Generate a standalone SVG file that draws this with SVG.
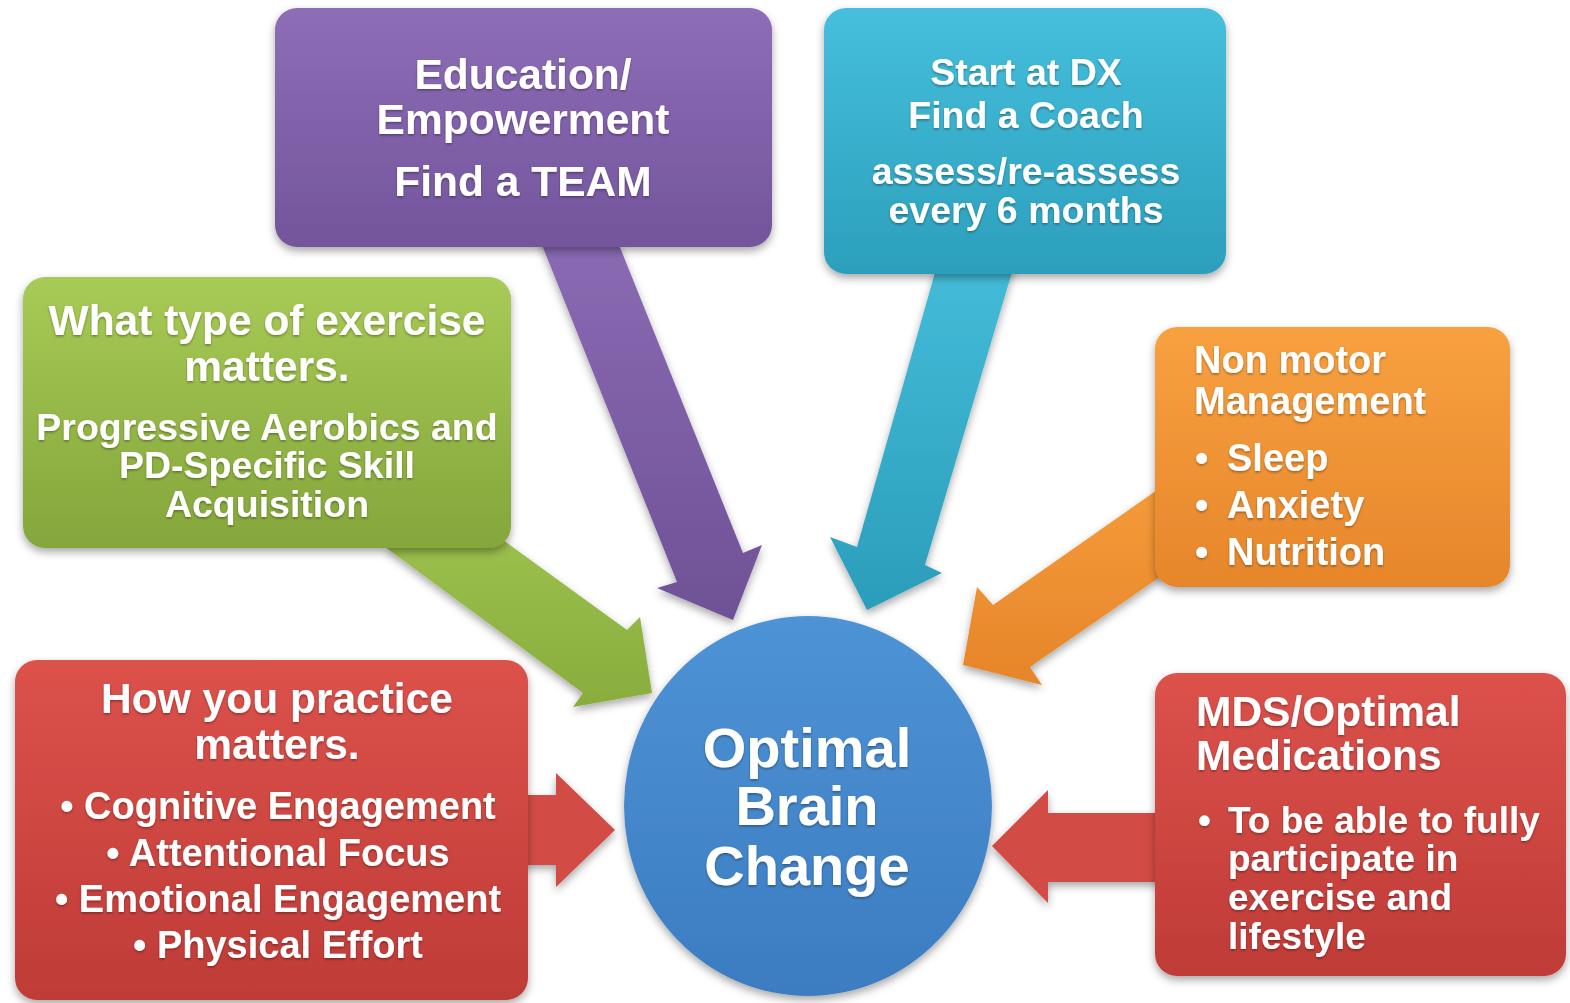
<svg xmlns="http://www.w3.org/2000/svg" width="1570" height="1003" viewBox="0 0 1570 1003">
  <defs>
    <linearGradient id="gPurple" x1="0" y1="0" x2="0" y2="1">
      <stop offset="0" stop-color="#8e6db7"/>
      <stop offset="1" stop-color="#73559c"/>
    </linearGradient>
    <linearGradient id="gCyan" x1="0" y1="0" x2="0" y2="1">
      <stop offset="0" stop-color="#45bfdc"/>
      <stop offset="1" stop-color="#2c9fbc"/>
    </linearGradient>
    <linearGradient id="gGreen" x1="0" y1="0" x2="0" y2="1">
      <stop offset="0" stop-color="#a8ca56"/>
      <stop offset="1" stop-color="#84a63b"/>
    </linearGradient>
    <linearGradient id="gOrange" x1="0" y1="0" x2="0" y2="1">
      <stop offset="0" stop-color="#f8a140"/>
      <stop offset="1" stop-color="#e6862b"/>
    </linearGradient>
    <linearGradient id="gRed" x1="0" y1="0" x2="0" y2="1">
      <stop offset="0" stop-color="#dc524b"/>
      <stop offset="1" stop-color="#bf3b37"/>
    </linearGradient>
    <linearGradient id="gBlue" x1="0" y1="0" x2="0" y2="1">
      <stop offset="0" stop-color="#4d93d6"/>
      <stop offset="1" stop-color="#3c7cc0"/>
    </linearGradient>
    <linearGradient id="aPurple" x1="0" y1="0" x2="0" y2="1">
      <stop offset="0" stop-color="#8b6bb4"/>
      <stop offset="1" stop-color="#6f5196"/>
    </linearGradient>
    <linearGradient id="aCyan" x1="0" y1="0" x2="0" y2="1">
      <stop offset="0" stop-color="#44bcd9"/>
      <stop offset="1" stop-color="#2b9dba"/>
    </linearGradient>
    <linearGradient id="aGreen" x1="0" y1="0" x2="0" y2="1">
      <stop offset="0" stop-color="#9fc24f"/>
      <stop offset="1" stop-color="#88ad3d"/>
    </linearGradient>
    <linearGradient id="aOrange" x1="0" y1="0" x2="0" y2="1">
      <stop offset="0" stop-color="#f59b3a"/>
      <stop offset="1" stop-color="#e6852a"/>
    </linearGradient>
    <filter id="shadow" x="-10%" y="-10%" width="120%" height="125%">
      <feDropShadow dx="0" dy="4" stdDeviation="4" flood-color="#000" flood-opacity="0.35"/>
    </filter>
    <filter id="tshadow" x="-5%" y="-20%" width="110%" height="150%">
      <feDropShadow dx="0" dy="1.5" stdDeviation="1" flood-color="#000" flood-opacity="0.35"/>
    </filter>
  </defs>
  <style>
    text { font-family: "Liberation Sans", Arial, Helvetica, sans-serif; font-weight: bold; fill: #ffffff; }
    .c { text-anchor: middle; }
    .lbl { filter: url(#tshadow); }
  </style>

  <rect width="1570" height="1003" fill="#ffffff"/>

  <!-- block arrows pointing into the hub -->
  <g id="connectors" filter="url(#shadow)">
    <polygon id="arrow-education" fill="url(#aPurple)" points="536,230 613,230 743,553 762,545 733,620 657,588 677,582"/>
    <polygon id="arrow-coach" fill="url(#aCyan)" points="938,262 1015,262 925,565 942,573 867,610 830,537 857,547"/>
    <polygon id="arrow-exercise" fill="url(#aGreen)" points="470,516 627,630 640,617 652,693 573,707 583,693 385,547"/>
    <polygon id="arrow-nonmotor" fill="url(#aOrange)" points="1170,481 993,605 977,587 963,665 1042,685 1030,667 1170,570"/>
    <polygon id="arrow-practice" fill="#d24b45" points="510,795 556,795 556,773 615,830 556,887 556,865 510,865"/>
    <polygon id="arrow-meds" fill="#d24b45" points="1170,813 1048,813 1048,790 992,846 1048,903 1048,882 1170,882"/>
  </g>

  <g id="node-education">
    <rect x="275" y="8" width="497" height="239" rx="22" fill="url(#gPurple)" filter="url(#shadow)"/>
    <g class="lbl" font-size="42.5">
      <text class="c" x="523" y="89">Education/</text>
      <text class="c" x="523" y="134">Empowerment</text>
      <text class="c" x="523" y="196">Find a TEAM</text>
    </g>
  </g>

  <g id="node-coach">
    <rect x="824" y="8" width="402" height="266" rx="22" fill="url(#gCyan)" filter="url(#shadow)"/>
    <g class="lbl" font-size="37.5">
      <text class="c" x="1026" y="85">Start at DX</text>
      <text class="c" x="1026" y="128">Find a Coach</text>
      <text class="c" x="1026" y="184">assess/re-assess</text>
      <text class="c" x="1026" y="223">every 6 months</text>
    </g>
  </g>

  <g id="node-exercise">
    <rect x="23" y="277" width="488" height="271" rx="22" fill="url(#gGreen)" filter="url(#shadow)"/>
    <g class="lbl">
      <text class="c" x="267" y="335" font-size="42.5">What type of exercise</text>
      <text class="c" x="267" y="381" font-size="42.5">matters.</text>
      <text class="c" x="267" y="440" font-size="37.5">Progressive Aerobics and</text>
      <text class="c" x="267" y="478" font-size="37.5">PD-Specific Skill</text>
      <text class="c" x="267" y="517" font-size="37.5">Acquisition</text>
    </g>
  </g>

  <g id="node-nonmotor">
    <rect x="1155" y="327" width="355" height="260" rx="22" fill="url(#gOrange)" filter="url(#shadow)"/>
    <g class="lbl" font-size="38">
      <text x="1194" y="373">Non motor</text>
      <text x="1194" y="414">Management</text>
      <text x="1195" y="471">•</text>
      <text x="1227" y="471">Sleep</text>
      <text x="1195" y="518">•</text>
      <text x="1227" y="518">Anxiety</text>
      <text x="1195" y="565">•</text>
      <text x="1227" y="565">Nutrition</text>
    </g>
  </g>

  <g id="node-practice">
    <rect x="15" y="660" width="513" height="340" rx="22" fill="url(#gRed)" filter="url(#shadow)"/>
    <g class="lbl">
      <text class="c" x="277" y="713" font-size="42.5">How you practice</text>
      <text class="c" x="277" y="759" font-size="42.5">matters.</text>
      <text class="c" x="278" y="819" font-size="38">• Cognitive Engagement</text>
      <text class="c" x="278" y="866" font-size="38">• Attentional Focus</text>
      <text class="c" x="278" y="912" font-size="38">• Emotional Engagement</text>
      <text class="c" x="278" y="958" font-size="38">• Physical Effort</text>
    </g>
  </g>

  <g id="node-meds">
    <rect x="1155" y="673" width="411" height="303" rx="22" fill="url(#gRed)" filter="url(#shadow)"/>
    <g class="lbl">
      <text x="1196" y="726" font-size="42.5">MDS/Optimal</text>
      <text x="1196" y="770" font-size="42.5">Medications</text>
      <text x="1198" y="833" font-size="37">•</text>
      <text x="1228" y="833" font-size="37">To be able to fully</text>
      <text x="1228" y="871" font-size="37">participate in</text>
      <text x="1228" y="910" font-size="37">exercise and</text>
      <text x="1228" y="949" font-size="37">lifestyle</text>
    </g>
  </g>

  <g id="node-hub">
    <ellipse cx="808" cy="806" rx="184" ry="190" fill="url(#gBlue)" filter="url(#shadow)"/>
    <g class="lbl" font-size="56">
      <text class="c" x="807" y="767">Optimal</text>
      <text class="c" x="807" y="825">Brain</text>
      <text class="c" x="807" y="885">Change</text>
    </g>
  </g>
</svg>
